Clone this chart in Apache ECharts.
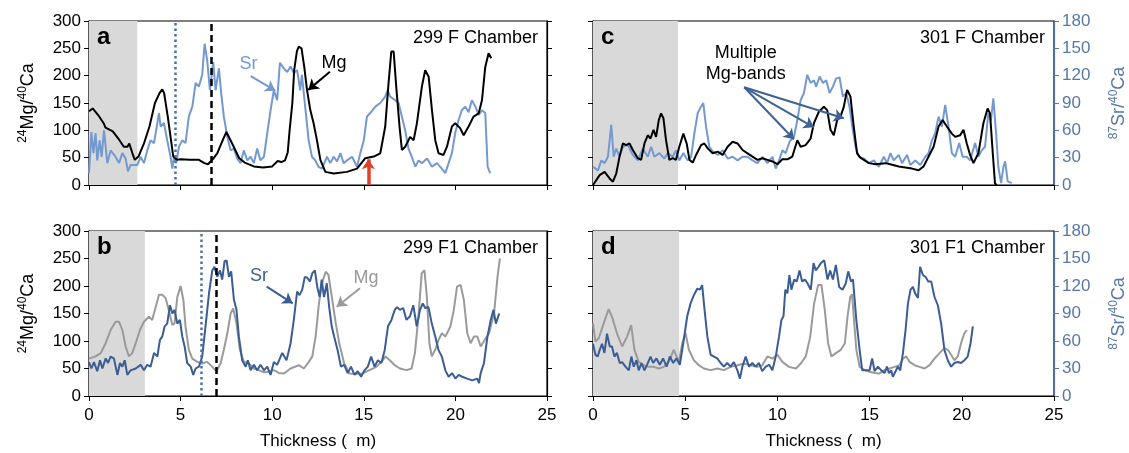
<!DOCTYPE html>
<html><head><meta charset="utf-8">
<script src="https://cdn.jsdelivr.net/npm/echarts/dist/echarts.min.js"></script>
<style>html,body{margin:0;padding:0;background:#fff}#c{width:1129px;height:453px}</style>
</head><body><div id="c"></div>
<script>
// ---- data (x = thickness, y = ratio) ----
const mgA = [[0,135],[0.2,140],[0.5,128],[0.8,113],[0.9,105],[1.0,104],[1.3,98],[1.6,85],[1.9,70],[2.1,70],[2.2,76],[2.4,55],[2.5,46],[2.7,52],[3.0,76],[3.3,107],[3.6,150],[3.85,168],[4.0,175],[4.1,168],[4.3,125],[4.5,76],[4.6,52],[4.8,46],[5.0,47],[5.5,46],[6.0,46],[6.3,40],[6.5,38],[6.8,49],[7.0,58],[7.3,82],[7.5,97],[7.6,95],[7.9,70],[8.2,49],[8.5,41],[9.0,34],[9.5,32],[10.0,34],[10.3,44],[10.5,42],[10.7,45],[10.85,60],[10.95,100],[11.1,150],[11.2,210],[11.35,245],[11.45,253],[11.6,250],[11.75,216],[11.9,174],[12.08,137],[12.26,113],[12.44,82],[12.63,46],[12.9,24],[13.36,21],[14.08,24],[14.63,30],[15.08,49],[15.54,52],[15.9,58],[16.17,107],[16.35,186],[16.5,244],[16.63,244],[16.77,180],[16.95,107],[17.08,64],[17.26,70],[17.53,88],[17.72,82],[17.9,113],[18.17,180],[18.35,210],[18.54,198],[18.72,137],[18.9,82],[19.08,58],[19.35,55],[19.54,70],[19.81,107],[19.99,113],[20.26,104],[20.45,91],[20.72,107],[20.99,125],[21.27,131],[21.45,155],[21.63,216],[21.81,241],[21.96,232]];
const srA = [[0,13],[0.13,58],[0.24,35],[0.36,57],[0.45,27],[0.58,49],[0.69,31],[0.82,60],[1.0,24],[1.18,38],[1.45,31],[1.64,24],[1.82,35],[2.0,29],[2.13,15],[2.27,22],[2.64,22],[2.82,31],[3.0,24],[3.18,38],[3.36,49],[3.55,46],[3.73,68],[3.82,79],[3.91,64],[4.09,68],[4.27,49],[4.45,31],[4.55,18],[4.64,31],[4.76,24],[4.91,42],[5.09,49],[5.27,46],[5.45,75],[5.64,86],[5.82,112],[6.0,108],[6.18,121],[6.31,155],[6.45,137],[6.6,104],[6.78,135],[6.91,104],[7.09,128],[7.22,100],[7.36,75],[7.55,53],[7.73,38],[7.91,40],[8.09,29],[8.27,24],[8.45,38],[8.64,27],[8.82,31],[9.0,24],[9.18,40],[9.36,27],[9.55,31],[9.73,57],[9.91,82],[10.09,104],[10.27,93],[10.42,134],[10.64,128],[10.82,124],[11.0,130],[11.18,123],[11.36,126],[11.53,104],[11.62,121],[11.8,86],[11.99,49],[12.17,31],[12.35,27],[12.53,20],[12.72,18],[12.99,31],[13.17,24],[13.36,31],[13.54,26],[13.72,35],[13.9,24],[14.08,27],[14.36,31],[14.63,20],[14.81,35],[15.0,49],[15.17,75],[15.35,79],[15.63,86],[15.9,90],[16.17,97],[16.3,104],[16.44,97],[16.72,93],[16.9,90],[17.08,75],[17.26,60],[17.44,40],[17.62,31],[17.81,20],[17.99,27],[18.17,24],[18.45,29],[18.72,20],[18.99,24],[19.26,18],[19.45,13],[19.63,24],[19.81,35],[19.99,57],[20.17,71],[20.35,82],[20.54,86],[20.72,80],[20.9,93],[21.09,86],[21.27,77],[21.45,82],[21.63,79],[21.76,20],[21.9,13]];
const mgB = [[0,68],[0.36,72],[0.64,78],[0.91,96],[1.18,120],[1.45,135],[1.64,135],[1.82,120],[2.0,90],[2.18,72],[2.36,78],[2.55,96],[2.78,120],[3.0,135],[3.27,144],[3.45,138],[3.64,162],[3.82,184],[4.0,184],[4.18,178],[4.36,156],[4.55,129],[4.67,132],[4.82,180],[5.0,200],[5.15,175],[5.27,126],[5.45,84],[5.64,68],[5.91,62],[6.18,59],[6.45,62],[6.73,53],[6.96,45],[7.18,59],[7.36,84],[7.55,114],[7.73,150],[7.87,159],[8.05,132],[8.24,84],[8.45,62],[8.73,59],[9.0,50],[9.27,47],[9.55,43],[9.82,44],[10.09,47],[10.36,42],[10.64,41],[11.0,50],[11.45,56],[11.73,50],[12.0,62],[12.19,72],[12.37,108],[12.55,168],[12.74,208],[12.92,226],[13.07,220],[13.25,181],[13.47,132],[13.66,96],[13.93,59],[14.21,41],[14.58,40],[14.94,41],[15.31,47],[15.68,53],[15.96,62],[16.19,72],[16.42,65],[16.69,56],[16.97,50],[17.33,47],[17.61,50],[17.79,78],[17.98,144],[18.16,223],[18.31,229],[18.44,181],[18.58,96],[18.71,72],[18.9,84],[19.08,102],[19.26,114],[19.45,108],[19.72,126],[19.91,156],[20.09,199],[20.28,202],[20.46,175],[20.65,114],[20.83,96],[21.01,108],[21.2,108],[21.38,90],[21.6,102],[21.84,114],[22.11,150],[22.3,217],[22.43,250]];
const srB = [[0,37],[0.13,30],[0.27,37],[0.45,27],[0.6,39],[0.73,30],[0.91,41],[1.04,36],[1.18,43],[1.36,41],[1.55,23],[1.69,36],[1.82,32],[1.95,39],[2.09,23],[2.27,28],[2.55,30],[2.82,34],[3.0,28],[3.18,34],[3.36,32],[3.55,47],[3.73,43],[3.87,61],[4.0,65],[4.13,76],[4.27,79],[4.42,99],[4.55,90],[4.67,94],[4.82,79],[4.96,83],[5.09,65],[5.22,54],[5.36,36],[5.55,32],[5.69,23],[5.82,30],[6.0,32],[6.18,43],[6.36,76],[6.55,112],[6.73,137],[6.85,141],[7.0,130],[7.15,137],[7.27,127],[7.4,147],[7.51,148],[7.64,130],[7.76,136],[7.91,105],[8.05,94],[8.18,65],[8.36,39],[8.55,32],[8.67,39],[8.82,28],[9.0,34],[9.18,28],[9.36,34],[9.55,28],[9.73,32],[9.91,23],[10.09,37],[10.27,34],[10.55,47],[10.78,39],[11.0,57],[11.18,83],[11.36,114],[11.49,110],[11.64,116],[11.78,130],[11.91,129],[12.06,125],[12.19,134],[12.33,137],[12.46,119],[12.59,108],[12.7,127],[12.83,108],[12.98,123],[13.11,97],[13.25,76],[13.38,65],[13.57,50],[13.75,32],[13.93,34],[14.12,25],[14.3,32],[14.49,23],[14.67,27],[14.85,21],[15.04,28],[15.22,32],[15.4,43],[15.59,32],[15.77,39],[15.96,36],[16.14,50],[16.32,76],[16.51,83],[16.69,94],[16.82,97],[16.97,94],[17.15,96],[17.33,83],[17.52,87],[17.7,99],[17.89,76],[18.07,94],[18.22,101],[18.35,96],[18.53,97],[18.71,79],[18.9,65],[19.08,50],[19.26,43],[19.45,28],[19.63,21],[19.82,25],[20.0,19],[20.18,23],[20.37,21],[20.64,19],[20.92,17],[21.19,19],[21.29,14],[21.38,25],[21.56,36],[21.75,65],[21.93,83],[22.08,94],[22.21,79],[22.39,90]];
const mgC = [[0,0],[0.18,9],[0.36,18],[0.63,24],[0.9,12],[1.08,6],[1.26,21],[1.44,52],[1.62,76],[1.8,73],[1.98,76],[2.16,64],[2.43,49],[2.61,46],[2.79,76],[2.97,91],[3.12,85],[3.28,101],[3.42,88],[3.57,119],[3.69,131],[3.82,122],[3.96,82],[4.14,46],[4.32,49],[4.5,46],[4.68,70],[4.9,94],[5.08,76],[5.23,46],[5.41,41],[5.59,55],[5.86,73],[6.04,76],[6.22,67],[6.49,58],[6.76,61],[7.03,55],[7.3,70],[7.57,79],[7.84,76],[8.11,64],[8.38,58],[8.65,52],[8.92,46],[9.19,49],[9.46,46],[9.73,43],[10.0,38],[10.27,47],[10.54,47],[10.81,52],[11.08,82],[11.26,70],[11.53,73],[11.8,85],[11.98,113],[12.25,134],[12.52,143],[12.7,137],[12.88,101],[13.06,91],[13.24,119],[13.42,125],[13.6,143],[13.78,174],[13.96,162],[14.14,107],[14.32,58],[14.5,50],[14.69,46],[14.96,40],[15.32,38],[15.86,40],[16.22,37],[16.58,34],[16.94,32],[17.3,30],[17.66,27],[17.93,34],[18.2,52],[18.47,70],[18.74,107],[18.96,119],[19.19,107],[19.46,94],[19.64,88],[19.91,91],[20.09,101],[20.27,76],[20.45,55],[20.63,40],[20.9,58],[21.17,113],[21.4,140],[21.53,131],[21.68,58],[21.8,3],[21.89,0]];
const srC = [[0,20],[0.09,22],[0.27,16],[0.45,27],[0.63,24],[0.81,31],[0.99,66],[1.12,31],[1.26,40],[1.44,31],[1.62,42],[1.89,44],[2.16,33],[2.43,27],[2.7,40],[2.97,31],[3.15,42],[3.33,31],[3.6,35],[3.87,29],[4.05,35],[4.32,31],[4.5,38],[4.68,27],[4.9,35],[5.14,27],[5.32,31],[5.5,57],[5.68,79],[5.86,86],[5.98,90],[6.13,64],[6.31,42],[6.49,37],[6.76,33],[7.03,38],[7.3,29],[7.57,31],[7.84,27],[8.11,31],[8.38,31],[8.65,27],[8.92,24],[9.19,31],[9.46,24],[9.73,31],[9.91,18],[10.09,27],[10.27,38],[10.45,35],[10.67,48],[10.9,53],[11.08,71],[11.26,93],[11.44,101],[11.62,121],[11.8,112],[11.98,115],[12.1,108],[12.29,119],[12.47,112],[12.65,115],[12.83,101],[13.01,108],[13.19,117],[13.37,118],[13.55,97],[13.73,101],[13.91,86],[14.06,64],[14.24,42],[14.42,31],[14.69,29],[14.96,24],[15.23,27],[15.5,20],[15.77,31],[15.95,24],[16.13,35],[16.31,27],[16.58,33],[16.76,24],[17.03,33],[17.21,22],[17.48,27],[17.75,22],[18.02,31],[18.2,35],[18.38,49],[18.56,57],[18.74,75],[18.92,64],[19.1,88],[19.28,64],[19.46,35],[19.64,31],[19.86,46],[20.04,31],[20.27,31],[20.45,27],[20.72,46],[20.9,31],[21.08,38],[21.26,42],[21.44,79],[21.58,71],[21.71,95],[21.86,57],[21.98,20],[22.13,2],[22.26,20],[22.35,26],[22.49,4],[22.71,2]];
const mgD = [[0,132],[0.13,99],[0.31,105],[0.58,132],[0.85,158],[1.03,144],[1.3,114],[1.58,90],[1.85,108],[2.07,129],[2.25,84],[2.48,62],[2.75,56],[3.03,53],[3.3,53],[3.57,50],[3.84,53],[4.11,62],[4.38,84],[4.66,62],[4.84,96],[5.02,114],[5.2,84],[5.47,65],[5.74,56],[6.01,50],[6.38,47],[6.74,50],[7.1,47],[7.46,53],[7.83,56],[8.19,59],[8.55,56],[8.91,53],[9.18,56],[9.46,72],[9.73,68],[10.0,75],[10.27,62],[10.63,53],[11.0,50],[11.27,59],[11.54,72],[11.78,108],[11.99,168],[12.21,202],[12.39,202],[12.57,156],[12.75,96],[12.93,72],[13.17,78],[13.44,84],[13.66,96],[13.8,144],[13.95,180],[14.05,185],[14.15,140],[14.28,84],[14.46,53],[14.73,47],[15.0,44],[15.27,42],[15.54,41],[15.81,47],[16.08,50],[16.35,53],[16.62,56],[16.81,68],[16.99,72],[17.17,62],[17.44,56],[17.71,53],[17.98,50],[18.25,56],[18.52,68],[18.79,78],[19.06,87],[19.24,84],[19.42,75],[19.6,65],[19.78,72],[19.96,96],[20.14,114],[20.27,120]];
const srD = [[0,57],[0.13,45],[0.25,43],[0.36,50],[0.49,57],[0.62,47],[0.76,68],[0.91,54],[1.03,54],[1.16,43],[1.3,47],[1.45,36],[1.58,37],[1.76,32],[1.94,28],[2.08,43],[2.21,32],[2.36,39],[2.48,28],[2.63,36],[2.79,28],[2.93,34],[3.12,43],[3.26,36],[3.44,41],[3.62,34],[3.8,41],[3.99,32],[4.17,43],[4.35,36],[4.53,41],[4.71,34],[4.89,57],[5.11,87],[5.29,101],[5.47,110],[5.65,117],[5.8,116],[5.92,121],[6.05,94],[6.2,65],[6.38,45],[6.56,43],[6.74,41],[6.92,36],[7.1,32],[7.28,36],[7.46,32],[7.64,37],[7.83,28],[7.97,19],[8.1,32],[8.28,43],[8.46,32],[8.64,36],[8.82,32],[9.0,36],[9.18,27],[9.37,32],[9.55,34],[9.73,28],[9.91,43],[10.09,65],[10.22,83],[10.33,87],[10.43,116],[10.54,112],[10.65,132],[10.76,116],[10.91,127],[11.05,125],[11.2,137],[11.34,125],[11.49,127],[11.63,123],[11.81,116],[11.96,145],[12.08,137],[12.23,141],[12.36,145],[12.54,148],[12.72,127],[12.86,137],[13.01,127],[13.17,143],[13.35,119],[13.53,116],[13.71,123],[13.84,136],[13.99,125],[14.1,127],[14.28,83],[14.46,50],[14.6,28],[14.82,28],[15.0,28],[15.14,41],[15.27,27],[15.45,32],[15.63,28],[15.81,25],[15.94,32],[16.05,25],[16.17,28],[16.26,21],[16.41,27],[16.53,32],[16.66,28],[16.81,47],[16.95,72],[17.08,101],[17.22,116],[17.35,119],[17.47,112],[17.62,107],[17.74,141],[17.89,132],[18.03,130],[18.18,125],[18.34,125],[18.52,108],[18.7,99],[18.88,79],[19.06,50],[19.24,39],[19.42,32],[19.6,36],[19.78,37],[19.96,36],[20.14,39],[20.32,43],[20.47,57],[20.6,76]];

const panelLetters = ['a','b','c','d'];
const panelTitles = ['299 F Chamber','299 F1 Chamber','301 F Chamber','301 F1 Chamber'];
const shadeEnds = [2.64, 3.05, 4.61, 4.67];
const xRange = [0, 25, 5];
const mgRange = [0, 300, 50];
const srRange = [0, 180, 30];
const xName = 'Thickness (  m)';
const vLinesA = [4.69, 6.67];
const vLinesB = [6.15, 6.95];
const redArrowX = 15.25, redArrowTop = 47;

// ---- styling ----
const FONT = 'Liberation Sans, Arial, Helvetica, sans-serif';
const LIGHT = '#7399cf', DARK = '#3a5d93', GRAY = '#9a9a9a', AXBLUE = '#5877a8', SHADE = '#d9d9d9', DOTBLUE = '#4a70a8';
const grids = [
  {left:89, top:21, width:458, height:164},
  {left:89, top:231, width:458, height:165},
  {left:593, top:21, width:461, height:164},
  {left:593, top:231, width:461, height:165}
];
const mgSup = {
  rich: {b:{fontSize:18, fontFamily:FONT, color:'#000', lineHeight:22}, s:{fontSize:12, fontFamily:FONT, color:'#000', verticalAlign:'top', lineHeight:14}}
};
const srSup = {
  rich: {b:{fontSize:18, fontFamily:FONT, color:AXBLUE, lineHeight:22}, s:{fontSize:12, fontFamily:FONT, color:AXBLUE, verticalAlign:'top', lineHeight:14}}
};

const xAxis = [], yAxis = [], series = [], titles = [];
grids.forEach((g, i) => {
  const bottom = (i === 1 || i === 3);
  const leftLab = (i < 2);
  xAxis.push({
    type:'value', gridIndex:i, min:xRange[0], max:xRange[1], interval:xRange[2],
    axisLine:{show:true, onZero:false, lineStyle:{color:'#000', width:1.2}},
    axisTick:{show:true, length:5, lineStyle:{color:'#000'}},
    axisLabel:{show:bottom, fontSize:17, fontFamily:FONT, color:'#000', margin:11},
    splitLine:{show:false},
    name: bottom ? xName : '', nameLocation:'middle', nameGap:37,
    nameTextStyle:{fontSize:17, fontFamily:FONT, color:'#000'}
  });
  yAxis.push({
    type:'value', gridIndex:i, position:'left', min:mgRange[0], max:mgRange[1], interval:mgRange[2],
    axisLine:{show:true, lineStyle:{color:'#000', width:1.2}},
    axisTick:{show:true, length:5, lineStyle:{color:'#000'}},
    axisLabel:{show:leftLab, fontSize:17, fontFamily:FONT, color:'#000', margin:8},
    splitLine:{show:false},
    name: leftLab ? '{s|24}{b|Mg/}{s|40}{b|Ca}' : '', nameLocation:'middle', nameRotate:90, nameGap:50,
    nameTextStyle: mgSup
  });
  yAxis.push({
    type:'value', gridIndex:i, position:'right', min:srRange[0], max:srRange[1], interval:srRange[2],
    axisLine:{show:true, lineStyle:{color: leftLab ? '#000' : AXBLUE, width:1.2}},
    axisTick:{show:true, length:5, lineStyle:{color: leftLab ? '#000' : AXBLUE}},
    axisLabel:{show:!leftLab, fontSize:17, fontFamily:FONT, color:AXBLUE, margin:8},
    splitLine:{show:false},
    name: leftLab ? '' : '{s|87}{b|Sr/}{s|40}{b|Ca}', nameLocation:'middle', nameRotate:90, nameGap:54,
    nameTextStyle: srSup
  });
  // shading
  series.push({
    type:'line', xAxisIndex:i, yAxisIndex:2*i, data:[], z:1, silent:true,
    markArea:{silent:true, itemStyle:{color:SHADE}, data:[[{xAxis:0},{xAxis:shadeEnds[i]}]]}
  });
  titles.push({text:panelLetters[i], left:g.left + 8, top:g.top + 4, padding:0,
    textStyle:{fontSize:24, fontWeight:'bold', fontFamily:FONT, color:'#000'}});
  titles.push({text:panelTitles[i], right:1129 - (g.left + g.width) + 9, top:g.top + 8, padding:0,
    textStyle:{fontSize:18, fontWeight:'normal', fontFamily:FONT, color:'#000'}});
});

function lineSeries(i, axisOff, data, color, z, extra) {
  return Object.assign({
    type:'line', xAxisIndex:i, yAxisIndex:2*i + axisOff, data:data, symbol:'none', showSymbol:false,
    z:z, lineStyle:{color:color, width:2}, itemStyle:{color:color}, silent:true, animation:false
  }, extra || {});
}
function arrow(from, to, color, w) {
  return [{coord:from, lineStyle:{color:color, width:w || 2, type:'solid'}}, {coord:to}];
}
function textPt(coord, txt, color) {
  return {coord:coord, symbol:'circle', symbolSize:1, itemStyle:{color:'rgba(0,0,0,0)'},
    label:{show:true, position:'inside', formatter:txt, color:color, fontSize:18, fontFamily:FONT, lineHeight:21, align:'center'}};
}
function vLines(list) {
  return {silent:true, symbol:['none','none'], label:{show:false}, animation:false,
    data:list.map(v => ({xAxis:v[0], lineStyle:v[1]}))};
}
const dotted = {color:DOTBLUE, width:2.5, type:[2.5,3]};
const dashed = {color:'#000', width:2.5, type:[7,4]};

// Panel a
series.push(lineSeries(0, 1, srA, LIGHT, 3));
series.push(lineSeries(0, 0, mgA, '#000', 4, {
  markLine:{silent:true, symbol:['none','arrow'], symbolSize:10, label:{show:false}, animation:false,
    data:[
      arrow([8.83,199],[10.17,172.5], LIGHT),
      arrow([13.15,207],[11.97,174], '#000'),
      arrow([redArrowX,0],[redArrowX,redArrowTop], '#e0402a', 3.5)
    ]},
  markPoint:{silent:true, animation:false, data:[textPt([8.7,221],'Sr',LIGHT), textPt([13.37,223],'Mg','#000')]}
}));
series.push(lineSeries(0, 0, [], '#000', 5, {markLine: vLines([[vLinesA[0], dotted],[vLinesA[1], dashed]])}));

// Panel b
series.push(lineSeries(1, 0, mgB, GRAY, 3, {
  markLine:{silent:true, symbol:['none','arrow'], symbolSize:10, label:{show:false}, animation:false,
    data:[arrow([9.7,198.7],[11.12,168.5], DARK), arrow([14.79,195.8],[13.52,162.4], GRAY)]},
  markPoint:{silent:true, animation:false, data:[textPt([9.28,219],'Sr',DARK), textPt([15.12,214.5],'Mg',GRAY)]}
}));
series.push(lineSeries(1, 1, srB, DARK, 4));
series.push(lineSeries(1, 0, [], '#000', 5, {markLine: vLines([[vLinesB[0], dotted],[vLinesB[1], dashed]])}));

// Panel c
series.push(lineSeries(2, 1, srC, LIGHT, 3));
series.push(lineSeries(2, 0, mgC, '#000', 4, {
  markLine:{silent:true, symbol:['none','arrow'], symbolSize:10, label:{show:false}, animation:false,
    data:[arrow([8.2,178.7],[10.9,83.6], '#3f6294'), arrow([8.2,178.7],[11.98,105.5], '#3f6294'), arrow([8.2,178.7],[13.6,122], '#3f6294')]},
  markPoint:{silent:true, animation:false, data:[textPt([8.28,222],'Multiple\nMg-bands','#000')]}
}));

// Panel d
series.push(lineSeries(3, 0, mgD, GRAY, 3));
series.push(lineSeries(3, 1, srD, DARK, 4));

const chart = echarts.init(document.getElementById('c'), null, {renderer:'canvas'});
chart.setOption({
  animation:false,
  backgroundColor:'#fff',
  title: titles,
  grid: grids.map(g => Object.assign({show:true, borderColor:'#000', borderWidth:1.2, backgroundColor:'transparent', containLabel:false}, g)),
  xAxis: xAxis, yAxis: yAxis, series: series
});
</script></body></html>
